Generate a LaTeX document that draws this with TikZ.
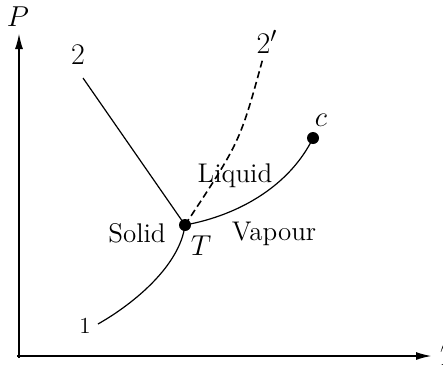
\documentclass[tikz,border=0pt]{standalone}
\usetikzlibrary{arrows.meta}

\tikzset{
  axis/.style={line width=1pt, -{Latex[length=8pt,width=4pt]}},
  phaseline/.style={line width=0.6pt},
  dot/.style={circle, fill, inner sep=0pt, minimum size=6pt},
  region/.style={font=\fontsize{13.5}{16}\selectfont},
  endlabel/.style={font=\fontsize{15}{18}\selectfont},
}

\begin{document}
\begin{tikzpicture}[x=0.5pt, y=-0.5pt]
\useasboundingbox (0,0) rectangle (443,366);

% Axes
\coordinate (O) at (19,356);
\coordinate (Ptip) at (19,33);
\coordinate (Ttip) at (432,356);
\draw[axis] (19,358) -- (Ptip);
\draw[axis] (17,356) -- (Ttip);
\node[region] (Plab) at (18,17) {$P$};
\node[region, anchor=west] (Tlab) at (433,356) {$T$};

% Triple point and critical point
\node[dot] (tp) at (185,225) {};
\node[dot] (cp) at (313,138) {};
\coordinate (e1) at (98,324);
\coordinate (e2) at (83,78);
\coordinate (e2p) at (263,58);

% Fusion, anomalous fusion, vaporisation, sublimation
\draw[phaseline] (e2) -- (tp.center);
\draw[line width=0.8pt, dash pattern=on 3.5pt off 2pt] (tp.center) .. controls (240,142) .. (e2p);
\draw[phaseline] (tp.center) .. controls (240,215) and (290,185) .. (cp.center);
\draw[phaseline] (e1) .. controls (135,303) and (180,265) .. (tp.center);

% Labels
\node[endlabel] (l2) at (78,55) {2};
\node[endlabel] (l2p) at (267,42) {2$'$};
\node[font=\fontsize{11.5}{14}\selectfont] (l1) at (85,326) {1};
\node[region] (lc) at (321,120) {$c$};
\node[region] (lT) at (201,246) {$T$};
\node[region] (liq) at (235,176) {Liquid};
\node[region] (vap) at (274,234) {Vapour};
\node[region] (sol) at (137,233) {Solid};

\end{tikzpicture}
\end{document}
